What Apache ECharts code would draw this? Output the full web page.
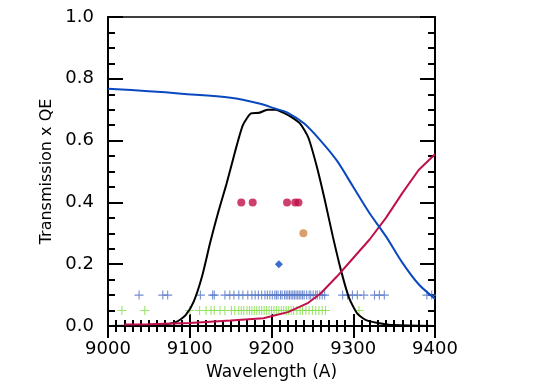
<!doctype html>
<html>
<head>
<meta charset="UTF-8">
<title>Transmission x QE</title>
<script src="https://cdn.jsdelivr.net/npm/echarts@6/dist/echarts.min.js"></script>
</head>
<body style="margin:0">
<div id="main" style="width:545px;height:389px;"></div>
<script>
// transmission curve (blue)
var blueWave = [9000, 9050, 9090, 9150, 9185, 9205, 9220, 9240, 9260, 9280, 9300, 9320, 9340, 9360, 9380, 9400];
var blueVal  = [0.768, 0.76, 0.752, 0.739, 0.72, 0.703, 0.69, 0.655, 0.6, 0.535, 0.45, 0.365, 0.29, 0.205, 0.135, 0.088];

// detector QE curve (red)
var redWave = [9020, 9050, 9100, 9150, 9190, 9220, 9245, 9260, 9280, 9300, 9320, 9340, 9360, 9380, 9400];
var redVal  = [0.005, 0.006, 0.01, 0.018, 0.025, 0.045, 0.075, 0.105, 0.16, 0.22, 0.28, 0.35, 0.43, 0.505, 0.556];

// filter curve (black)
var blackWave = [9000, 9050, 9070, 9085, 9095, 9105, 9115, 9125, 9135, 9145, 9155, 9165, 9175, 9185, 9195, 9205, 9215, 9225, 9235, 9245, 9255, 9265, 9275, 9285, 9295, 9305, 9315, 9330, 9350, 9400];
var blackVal  = [0.0, 0.002, 0.005, 0.015, 0.035, 0.08, 0.16, 0.27, 0.37, 0.46, 0.56, 0.65, 0.688, 0.69, 0.70, 0.70, 0.69, 0.675, 0.655, 0.61, 0.52, 0.41, 0.29, 0.18, 0.09, 0.04, 0.02, 0.01, 0.003, 0.0];

// single points
var redDotWave = [9163, 9177, 9219, 9229, 9233];
var redDotVal  = [0.4, 0.4, 0.4, 0.4, 0.4];
var orangeWave = [9239];
var orangeVal  = [0.3];
var diamondWave = [9209];
var diamondVal  = [0.2];

// line positions (plus rows)
var bluePlus = [9038, 9067, 9073, 9113, 9128, 9130, 9143, 9149, 9154, 9160, 9165, 9171, 9176, 9180, 9184, 9188, 9192, 9195, 9198, 9201, 9204, 9206, 9208, 9211, 9213, 9216, 9218, 9220, 9222, 9224, 9226, 9228, 9230, 9232, 9234, 9236, 9238, 9240, 9243, 9246, 9248, 9251, 9254, 9256, 9259, 9262, 9265, 9287, 9293, 9299, 9305, 9313, 9326, 9332, 9338, 9390, 9396];
var greenPlus = [9017, 9045, 9100, 9112, 9120, 9126, 9130, 9137, 9143, 9151, 9155, 9160, 9163, 9166, 9170, 9173, 9176, 9179, 9182, 9185, 9188, 9191, 9194, 9197, 9200, 9203, 9206, 9209, 9212, 9215, 9218, 9221, 9224, 9227, 9231, 9235, 9238, 9242, 9246, 9250, 9254, 9258, 9262, 9266, 9307];
var bluePlusLevel = 0.1;
var greenPlusLevel = 0.05;

var xTicks = [9000, 9100, 9200, 9300, 9400];
var yTicks = [0.0, 0.2, 0.4, 0.6, 0.8, 1.0];

function pairs(xs, ys) {
    var res = [];
    for (var i = 0; i < xs.length; i++) res.push([xs[i], ys[i]]);
    return res;
}
function row(xs, level) {
    var res = [];
    for (var i = 0; i < xs.length; i++) res.push([xs[i], level]);
    return res;
}

var plusPath = 'path://M0,4.4h10v1.2h-10z M4.4,0h1.2v10h-1.2z';
var font = 'DejaVu Sans';

var myChart = echarts.init(document.getElementById('main'));
var option = {
    animation: false,
    grid: {left: 108, right: 110, top: 17, bottom: 63, show: true, borderColor: '#000', borderWidth: 1.5},
    xAxis: [{
        type: 'value', min: xTicks[0], max: xTicks[xTicks.length - 1], interval: 100,
        name: 'Wavelength (A)', nameLocation: 'middle', nameGap: 38,
        nameTextStyle: {fontFamily: font, fontSize: 17, color: '#000'},
        axisLine: {show: true, lineStyle: {color: '#000', width: 2}},
        axisTick: {show: true, inside: true, length: 12, lineStyle: {color: '#000', width: 2}},
        minorTick: {show: true, splitNumber: 10, length: 6, lineStyle: {color: '#000', width: 2}},
        axisLabel: {margin: 14, fontFamily: font, fontSize: 18, color: '#000',
            formatter: function (v) { return String(v); }},
        splitLine: {show: false}
    }, {
        type: 'value', position: 'top', min: xTicks[0], max: xTicks[xTicks.length - 1], interval: 100,
        axisLine: {show: true, lineStyle: {color: '#000', width: 2}},
        axisTick: {show: true, inside: true, length: 12, lineStyle: {color: '#000', width: 2}},
        minorTick: {show: true, splitNumber: 10, length: 6, lineStyle: {color: '#000', width: 2}},
        axisLabel: {show: false},
        splitLine: {show: false}
    }],
    yAxis: [{
        type: 'value', min: yTicks[0], max: yTicks[yTicks.length - 1], interval: 0.2,
        name: 'Transmission x QE', nameLocation: 'middle', nameGap: 52,
        nameTextStyle: {fontFamily: font, fontSize: 16, color: '#000'},
        axisLine: {show: true, lineStyle: {color: '#000', width: 2}},
        axisTick: {show: true, inside: true, length: 15, lineStyle: {color: '#000', width: 2}},
        minorTick: {show: true, splitNumber: 4, length: 7, lineStyle: {color: '#000', width: 2}},
        axisLabel: {margin: 14, fontFamily: font, fontSize: 18, color: '#000',
            formatter: function (v) { return v.toFixed(1); }},
        splitLine: {show: false}
    }, {
        type: 'value', position: 'right', min: yTicks[0], max: yTicks[yTicks.length - 1], interval: 0.2,
        axisLine: {show: true, lineStyle: {color: '#000', width: 2}},
        axisTick: {show: true, inside: true, length: 15, lineStyle: {color: '#000', width: 2}},
        minorTick: {show: true, splitNumber: 4, length: 7, lineStyle: {color: '#000', width: 2}},
        axisLabel: {show: false},
        splitLine: {show: false}
    }],
    series: [
        {name: 'blueplus', type: 'scatter', data: row(bluePlus, bluePlusLevel),
         symbol: plusPath, symbolSize: 9, itemStyle: {color: '#5878c8', opacity: 0.85}},
        {name: 'greenplus', type: 'scatter', data: row(greenPlus, greenPlusLevel),
         symbol: plusPath, symbolSize: 9, itemStyle: {color: '#88e050', opacity: 0.85}},
        {name: 'filter', type: 'line', data: pairs(blackWave, blackVal), showSymbol: false, smooth: 0.2,
         lineStyle: {color: '#000', width: 2}},
        {name: 'qe', type: 'line', data: pairs(redWave, redVal), showSymbol: false,
         lineStyle: {color: '#c0104a', width: 2}},
        {name: 'trans', type: 'line', data: pairs(blueWave, blueVal), showSymbol: false, smooth: 0.3,
         lineStyle: {color: '#0a48c0', width: 2}},
        {name: 'reddots', type: 'scatter', data: pairs(redDotWave, redDotVal),
         symbol: 'circle', symbolSize: 8, itemStyle: {color: '#c0104a'}},
        {name: 'orange', type: 'scatter', data: pairs(orangeWave, orangeVal),
         symbol: 'circle', symbolSize: 8, itemStyle: {color: '#d08848'}},
        {name: 'diamond', type: 'scatter', data: pairs(diamondWave, diamondVal),
         symbol: 'diamond', symbolSize: 8, itemStyle: {color: '#0a48c0'}}
    ]
};
myChart.setOption(option);
</script>
</body>
</html>
